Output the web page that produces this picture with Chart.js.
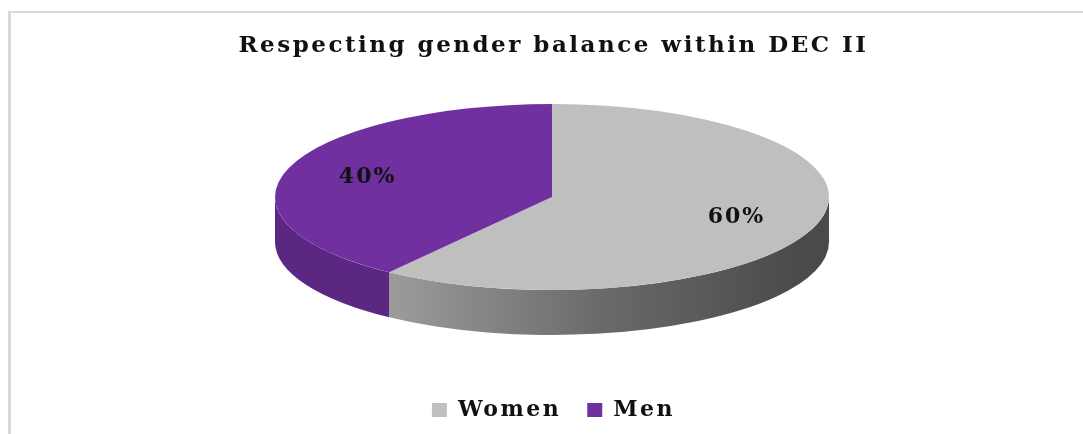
<!DOCTYPE html>
<html>
<head>
<meta charset="utf-8">
<script src="https://cdn.jsdelivr.net/npm/chart.js@4.4.1/dist/chart.umd.min.js"></script>
<style>
  html, body { margin: 0; padding: 0; background: #fff; }
  #wrap { position: relative; width: 1083px; height: 434px; overflow: hidden; }
  #frame { position: absolute; left: 8px; top: 11px; width: 1100px; height: 450px;
           border-left: 3px solid #d9d9d9; border-top: 2px solid #d9d9d9; }
  #c { position: absolute; left: 0; top: 0; }
</style>
</head>
<body>
<div id="wrap">
  <div id="frame"></div>
  <canvas id="c" width="1083" height="434"></canvas>
</div>
<script>
const categories = ["Women", "Men"];
const shares = [60, 40];
const chartTitle = "Respecting gender balance within DEC II";

const topColors = ["#bfbfbf", "#7030a0"];
const serif = "'DejaVu Serif', 'Liberation Serif', serif";

// side wall colours, gray gets a left-to-right shading like the original
function sideFill(ctx, i, o) {
  if (i === 1) return "#5c2683";
  const g = ctx.createLinearGradient(o.cx - o.rx * 0.7, 0, o.cx + o.rx * 0.9, 0);
  g.addColorStop(0, "#a3a3a3");
  g.addColorStop(0.55, "#6a6a6a");
  g.addColorStop(1, "#4a4a4a");
  return g;
}

// squash the library's pie into an ellipse and give it a thickness
const pie3d = {
  id: "pie3d",
  beforeUpdate(chart, args, o) { chart.ctx.letterSpacing = o.spacing; },
  beforeDraw(chart, args, o) { chart.ctx.letterSpacing = o.spacing; },
  beforeDatasetsDraw(chart, args, o) {
    const ctx = chart.ctx;
    const arcs = chart.getDatasetMeta(0).data;
    // front half of the wall (canvas angles 0..PI)
    arcs.forEach((arc, i) => {
      let s = arc.startAngle, e = arc.endAngle;
      while (s < 0) { s += Math.PI * 2; e += Math.PI * 2; }
      const segs = [[s, e], [s - Math.PI * 2, e - Math.PI * 2]];
      segs.forEach(([a, b]) => {
        const from = Math.max(a, 0), to = Math.min(b, Math.PI);
        if (to <= from) return;
        ctx.save();
        ctx.beginPath();
        ctx.ellipse(o.cx, o.cy, o.rx, o.ry, 0, from, to, false);
        ctx.ellipse(o.cx, o.cy + o.depth, o.rx, o.ry, 0, to, from, true);
        ctx.closePath();
        ctx.fillStyle = sideFill(ctx, i, o);
        ctx.fill();
        ctx.restore();
      });
    });
    const a0 = arcs[0];
    const R = a0.outerRadius;
    ctx.save();
    ctx.translate(o.cx, o.cy);
    ctx.scale(o.rx / R, o.ry / R);
    ctx.translate(-a0.x, -a0.y);
  },
  afterDatasetsDraw(chart, args, o) {
    const ctx = chart.ctx;
    ctx.restore();
    const arcs = chart.getDatasetMeta(0).data;
    const total = shares.reduce((a, b) => a + b, 0);
    ctx.save();
    ctx.font = "bold 22px " + serif;
    ctx.letterSpacing = "2px";
    ctx.fillStyle = "#111";
    ctx.textAlign = "center";
    ctx.textBaseline = "middle";
    arcs.forEach((arc, i) => {
      const mid = (arc.startAngle + arc.endAngle) / 2;
      const x = o.cx + o.rx * o.labelPos * Math.cos(mid);
      const y = o.cy + o.ry * o.labelPos * Math.sin(mid);
      ctx.fillText(Math.round(shares[i] / total * 100) + "%", x, y);
    });
    ctx.restore();
  }
};

new Chart(document.getElementById("c"), {
  type: "pie",
  data: {
    labels: categories,
    datasets: [{
      data: shares,
      backgroundColor: topColors,
      borderWidth: 0,
    }],
  },
  options: {
    responsive: false,
    animation: false,
    events: [],
    layout: { padding: { top: 0, bottom: 3, left: 24, right: 0 } },
    plugins: {
      pie3d: { cx: 552, cy: 197, rx: 277, ry: 93, depth: 45, labelPos: 0.7, spacing: "2.5px" },
      title: {
        display: true,
        text: chartTitle,
        color: "#111",
        font: { family: serif, size: 23, weight: "bold" },
        padding: { top: 32, bottom: 10 },
      },
      legend: {
        position: "bottom",
        labels: {
          color: "#111",
          boxWidth: 15,
          boxHeight: 14,
          padding: 26,
          font: { family: serif, size: 22, weight: "bold" },
        },
      },
      tooltip: { enabled: false },
    },
  },
  plugins: [pie3d],
});
</script>
</body>
</html>
